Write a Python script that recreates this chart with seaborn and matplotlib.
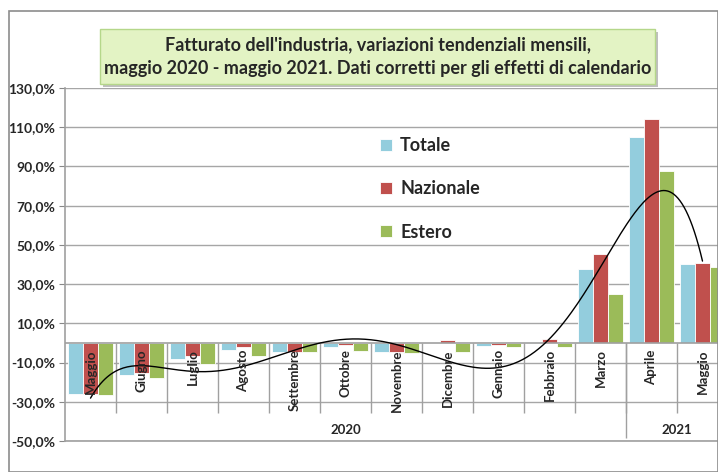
import numpy as np
import pandas as pd
import matplotlib.pyplot as plt
import seaborn as sns
from matplotlib.patches import Rectangle

# Data
months = ['Maggio', 'Giugno', 'Luglio', 'Agosto', 'Settembre', 'Ottobre', 'Novembre',
          'Dicembre', 'Gennaio', 'Febbraio', 'Marzo', 'Aprile', 'Maggio']
years = ['2020', '2021']
totale = [-26.0, -16.3, -8.2, -3.6, -4.4, -1.9, -4.8, 0.2, -1.5, 0.6, 37.7, 105.0, 40.1]
nazionale = [-26.0, -15.5, -6.5, -2.0, -4.8, -0.9, -4.4, 1.5, -1.2, 2.2, 45.4, 114.4, 41.0]
estero = [-26.3, -17.7, -10.9, -6.5, -4.8, -4.1, -5.3, -4.4, -2.0, -2.0, 25.0, 87.9, 38.6]
series_names = ['Totale', 'Nazionale', 'Estero']
colors = ['#93CDDD', '#C0504D', '#9BBB59']
y_ticks = [-50, -30, -10, 10, 30, 50, 70, 90, 110, 130]

n = len(months)
df = pd.DataFrame({
    'pos': list(range(n)) * 3,
    'Serie': [s for s in series_names for _ in range(n)],
    'Valore': totale + nazionale + estero,
})

sns.set_theme(style='white')
plt.rcParams['font.family'] = ['Lato', 'DejaVu Sans']

fig = plt.figure(figsize=(7.18, 4.72), dpi=100)
W, H = 718, 472
ax = fig.add_axes([65 / W, (H - 441) / H, (W - 65) / W, (441 - 88) / H])

sns.barplot(data=df, x='pos', y='Valore', hue='Serie', hue_order=series_names,
            palette=colors, width=0.9, saturation=1, ax=ax,
            edgecolor='white', linewidth=0.6)

# trendline (6th order polynomial on Estero)
xs = np.arange(n)
coef = np.polyfit(xs, estero, 6)
xf = np.linspace(0, n - 1, 300)
ax.plot(xf, np.polyval(coef, xf), color='black', lw=1.0, zorder=5)

ax.set_xlim(-0.5, -0.5 + (W - 65) / 51)
ax.set_ylim(-50, 130)
ax.set_yticks(y_ticks)
ax.set_yticklabels([f'{v:.1f}%'.replace('.', ',') for v in y_ticks],
                   fontsize=10, fontweight='bold')
ax.tick_params(axis='y', length=4, width=0.8, color='#888888', pad=3, left=True)
ax.set_xticks([])
ax.set_xlabel('')
ax.set_ylabel('')
ax.yaxis.grid(True, color='#a6a6a6', lw=1)
ax.set_axisbelow(True)
for s in ['top', 'right']:
    ax.spines[s].set_visible(False)
ax.spines['left'].set_color('#a0a0a0')
ax.spines['bottom'].set_color('#a0a0a0')
ax.spines['left'].set_linewidth(1.2)
ax.spines['bottom'].set_linewidth(1.2)

# category axis at zero with multi-level labels
ax.axhline(0, color='#a0a0a0', lw=1.2, zorder=1)
ax.vlines([i + 0.5 for i in range(n - 1)], -35.6, 0, color='#a0a0a0', lw=1, zorder=1)
ax.vlines([10.5], -48.5, 0, color='#a0a0a0', lw=1, zorder=1)
for i, m in enumerate(months):
    ax.text(i, -3.2, m, rotation=90, ha='center', va='top', fontsize=9.5,
            fontweight='bold', zorder=6)
ax.text(5, -44.2, years[0], ha='center', va='center', fontsize=9.5, fontweight='bold')
ax.text(11.5, -44.2, years[1], ha='center', va='center', fontsize=9.5, fontweight='bold')

# legend
handles, labels = ax.get_legend_handles_labels()
ax.legend(handles, labels, loc='upper left', bbox_to_anchor=(364 / W, 1 - 121 / H),
          bbox_transform=fig.transFigure, frameon=False, handlelength=0.65,
          handleheight=0.65, labelspacing=1.45, handletextpad=0.45,
          prop={'weight': 'bold', 'size': 13})

# outer border
fig.patches.append(Rectangle((9 / W, 0), 1 - 9 / W, (H - 11) / H, transform=fig.transFigure,
                             fill=False, edgecolor='#8c8c8c', lw=1.2))

# title box with shadow
bx, by, bw, bh = 100, 29, 555, 55
fig.patches.append(Rectangle(((bx + 3) / W, (H - by - bh - 3) / H), bw / W, bh / H,
                             transform=fig.transFigure, facecolor='#bfbfbf',
                             edgecolor='none', zorder=1))
fig.patches.append(Rectangle((bx / W, (H - by - bh) / H), bw / W, bh / H,
                             transform=fig.transFigure, facecolor='#e3f3c4',
                             edgecolor='#b5d78a', lw=1, zorder=2))
fig.text((bx + bw / 2) / W, (H - by - bh / 2) / H,
         "Fatturato dell'industria, variazioni tendenziali mensili,\n"
         "maggio 2020 - maggio 2021. Dati corretti per gli effetti di calendario",
         ha='center', va='center', fontsize=13, fontweight='bold', linespacing=1.45,
         zorder=3)

fig.savefig('out.png', dpi=100)
